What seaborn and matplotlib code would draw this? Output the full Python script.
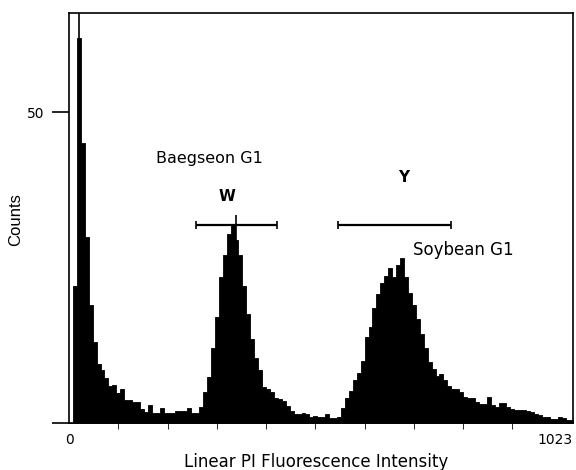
import numpy as np
import pandas as pd
import matplotlib
matplotlib.use('Agg')
import matplotlib.pyplot as plt
import seaborn as sns

# Contagens por canal (bins de 8 canais, canais 0-1023)
contagens = [
    0, 22, 62, 45, 30, 19, 13, 9.5, 8.5, 7.2,
    6, 6.1, 4.8, 5.5, 3.7, 3.7, 3.4, 3.4, 2.2, 1.8,
    2.9, 1.6, 1.6, 2.4, 1.6, 1.6, 1.6, 1.9, 1.9, 1.9,
    2.4, 1.6, 1.6, 2.5, 5, 7.4, 12, 17, 23.5, 27,
    30.5, 32, 29.5, 27, 22, 17.5, 13.5, 10.5, 8.5, 5.8,
    5.4, 5, 4, 3.8, 3.6, 2.8, 2, 1.5, 1.4, 1.6,
    1.5, 1, 1.1, 1, 1, 1.5, 0.8, 0.8, 1, 2.4,
    4, 5.2, 7, 8, 10, 13.8, 15.5, 18.5, 20.7, 22.5,
    23.7, 25, 23.5, 25.5, 26.5, 23.5, 21, 19, 16.8, 14.3,
    12, 9.8, 8.7, 7.5, 7.9, 7, 6, 5.4, 5.4, 5,
    4.2, 4.1, 4.1, 3.4, 3, 3, 4.2, 2.9, 2.6, 3.2,
    3.2, 2.5, 2.2, 2.1, 2.1, 2.1, 1.9, 1.8, 1.4, 1.3,
    1, 1, 0.7, 0.6, 1, 0.8, 0.5, 0.5,
]
largura_bin = 8
canais = np.arange(len(contagens)) * largura_bin

# Picos estreitos (um canal) que sobressaem dos bins
pico_canal = [20, 338]
pico_contagem = [70, 33.5]

# Marcadores G1 (W e Y)
regioes = ['W', 'Y']
regiao_inicio = [258, 546]
regiao_fim = [422, 775]
regiao_altura = [31.8, 31.9]

preto = {'text.color': 'black', 'axes.labelcolor': 'black', 'axes.edgecolor': 'black',
         'xtick.color': 'black', 'ytick.color': 'black'}
sns.set_style('ticks', rc=preto)
plt.rcParams['font.family'] = ['DejaVu Sans']

df = pd.DataFrame({'canal': canais + largura_bin / 2, 'contagem': contagens})

fig = plt.figure(figsize=(5.76, 4.70), dpi=100)
ax = fig.add_axes([0.1198, 0.1, 0.875, 0.8723])

sns.histplot(data=df, x='canal', weights='contagem', binwidth=largura_bin,
             binrange=(0, len(contagens) * largura_bin), element='step',
             fill=True, color='black', alpha=1, linewidth=0.6, ax=ax)
ax.vlines(pico_canal, 0, pico_contagem, color='black', linewidth=1.2)

for nome, ini, fim, alt in zip(regioes, regiao_inicio, regiao_fim, regiao_altura):
    meio = (ini + fim) / 2
    ax.errorbar(meio, alt, xerr=(fim - ini) / 2, color='black', capsize=3,
                elinewidth=1.6, capthick=1.2, fmt='none')

ax.text(321, 36.5, 'W', fontsize=11, fontweight='bold', ha='center', va='center')
ax.text(680, 39.5, 'Y', fontsize=11, fontweight='bold', ha='center', va='center')
ax.text(177, 42.6, 'Baegseon G1', fontsize=11.5, ha='left', va='center')
ax.text(698, 27.9, 'Soybean G1', fontsize=12, ha='left', va='center')

ax.set_xlim(0, 1023)
ax.set_ylim(0, 66)
ax.set_xticks([0, 1023])
ax.set_xticklabels(['0', '1023'])
ax.get_xticklabels()[-1].set_horizontalalignment('right')
ax.set_xticks(range(100, 1000, 100), minor=True)
ax.tick_params(axis='x', which='major', length=0, pad=7, labelsize=10)
ax.tick_params(axis='x', which='minor', length=4, direction='out', pad=2)
ax.set_yticks([0, 50])
ax.set_yticklabels(['', '50'])
ax.tick_params(axis='y', length=12, width=1.2, labelsize=10, pad=6)

for lado in ['left', 'right', 'top', 'bottom']:
    ax.spines[lado].set_visible(True)
    ax.spines[lado].set_linewidth(1.2)

ax.set_xlabel('Linear PI Fluorescence Intensity', fontsize=12)
ax.xaxis.set_label_coords(0.49, -0.072)
ax.set_ylabel('Counts', fontsize=12, family=['Liberation Sans', 'DejaVu Sans'])
ax.yaxis.set_label_coords(-0.092, 0.495)

fig.savefig('out.png', dpi=100)
